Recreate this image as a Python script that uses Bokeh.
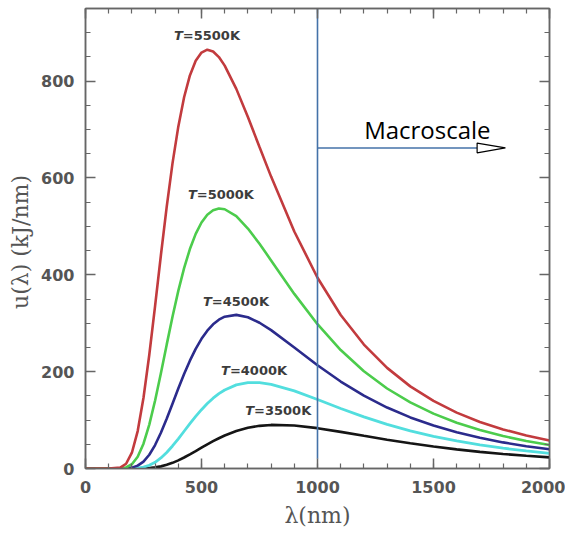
from bokeh.plotting import figure
from bokeh.models import LinearAxis, SingleIntervalTicker, ColumnDataSource
from bokeh.core.properties import value
from bokeh.embed import file_html
from bokeh.resources import INLINE

# ---- data ----
wavelength = [0, 100, 150, 175, 200, 225, 250, 275, 300, 325, 350, 375, 400, 425, 450, 475,
              500, 525, 550, 575, 600, 650, 700, 750, 800, 900, 1000, 1100, 1200, 1300,
              1400, 1500, 1600, 1700, 1800, 1900, 2000]
u_5500 = [0, 0, 1.8, 9.8, 32.6, 77.3, 146.1, 234.9, 336, 440.4, 540.4, 630.2, 706, 766.7, 811.8, 842,
          859, 865, 861.3, 849.7, 832, 784, 725.8, 664, 602.8, 489.5, 394, 317, 256, 207.8,
          169.6, 139.5, 115.4, 96.2, 80.7, 68.1, 57.9]
u_5000 = [0, 0, 0.3, 2.2, 8.8, 24.2, 51.3, 90.7, 140.4, 196.9, 255.8, 313.5, 366.8, 413.8, 453.2, 484.5,
          508, 524.1, 533.2, 537.0, 535.4, 521, 495.6, 464.1, 429.8, 360.6, 298, 244.7, 200.8, 165.2,
          136.4, 113.3, 94.6, 79.4, 67.0, 56.9, 48.6]
u_4500 = [0, 0, 0, 0.35, 1.8, 5.9, 14.3, 28.4, 48.4, 73.7, 102.7, 133.7, 165.1, 195.1, 222.7, 247.1,
          267.8, 284.7, 297.9, 307.3, 313.5, 317.3, 312.3, 301, 285.8, 249.9, 213.2, 179.6, 150.5, 125.9,
          105.5, 88.7, 74.8, 63.4, 53.9, 46.1, 39.6]
u_4000 = [0, 0, 0, 0, 0.2, 1.0, 2.9, 6.7, 12.9, 21.7, 33.1, 46.5, 61.3, 76.9, 92.5, 107.5,
          121.5, 134.1, 145.2, 154.6, 162.2, 172.7, 177.3, 177.3, 173.8, 160.2, 142.4, 123.9, 106.6, 91.2,
          77.9, 66.5, 56.9, 48.8, 41.9, 36.2, 31.3]
u_3500 = [0, 0, 0, 0, 0, 0.1, 0.4, 1.0, 2.3, 4.4, 7.6, 11.7, 16.8, 22.7, 29.2, 36.0,
          43.0, 49.8, 56.4, 62.5, 68.1, 77.3, 84.0, 88.1, 90.0, 88.8, 83.3, 75.7, 67.5, 59.5,
          52.1, 45.4, 39.5, 34.4, 30.0, 26.2, 22.9]

label_text = ["=5500K", "=5000K", "=4500K", "=4000K", "=3500K"]
label_x = [523, 583, 648, 726, 830]
label_y = [895, 566, 344, 202, 119]

x_ticks_interval = 500
y_ticks_interval = 200

divider_x = 1000
divider_y = [20, 950]
arrow_y = 662
arrow_end_x = 1688
arrow_tip_x = 1810
arrow_half_h = 10
macro_text = "Macroscale"
macro_x = 1201
macro_y = 700

# ---- figure ----
p = figure(width=565, height=530, x_range=(0, 2000), y_range=(0, 950),
           output_backend="svg", toolbar_location=None,
           min_border_left=85, min_border_right=16, min_border_top=8, min_border_bottom=5)
p.xgrid.visible = False
p.ygrid.visible = False
p.outline_line_color = "#666666"
p.outline_line_width = 1.5
p.background_fill_color = "white"
p.border_fill_color = "white"

axis_col = "#666666"
tick_col = "#555555"

def style_axis(ax, labels=True):
    ax.axis_line_color = axis_col
    ax.axis_line_width = 1.5
    ax.major_tick_line_color = axis_col
    ax.minor_tick_line_color = axis_col
    ax.major_tick_line_width = 1.5
    ax.minor_tick_line_width = 1.2
    ax.major_tick_in = 10
    ax.major_tick_out = 0
    ax.minor_tick_in = 5
    ax.minor_tick_out = 0
    if labels:
        ax.major_label_text_font = "DejaVu Sans"
        ax.major_label_text_font_style = "bold"
        ax.major_label_text_font_size = "16px"
        ax.major_label_text_color = tick_col
    else:
        ax.major_label_text_font_size = "1px"
        ax.major_label_text_alpha = 0
        ax.major_label_standoff = 0

xt = SingleIntervalTicker(interval=x_ticks_interval, num_minor_ticks=5)
yt = SingleIntervalTicker(interval=y_ticks_interval, num_minor_ticks=4)

p.xaxis.ticker = xt
p.yaxis.ticker = yt
for ax in p.xaxis:
    style_axis(ax)
    ax.major_label_standoff = 12
    ax.axis_label = "λ(nm)"
    ax.axis_label_text_font = "DejaVu Serif"
    ax.axis_label_text_font_style = "normal"
    ax.axis_label_text_font_size = "22px"
    ax.axis_label_text_color = "#555555"
    ax.axis_label_standoff = 7
for ax in p.yaxis:
    style_axis(ax)
    ax.major_label_standoff = 11
    ax.axis_label = "u(λ)  (kJ/nm)"
    ax.axis_label_text_font = "DejaVu Serif"
    ax.axis_label_text_font_style = "normal"
    ax.axis_label_text_font_size = "22px"
    ax.axis_label_text_color = "#555555"
    ax.axis_label_standoff = 5

top = LinearAxis(ticker=SingleIntervalTicker(interval=x_ticks_interval, num_minor_ticks=5))
style_axis(top, labels=False)
p.add_layout(top, "above")
right = LinearAxis(ticker=SingleIntervalTicker(interval=y_ticks_interval, num_minor_ticks=4))
style_axis(right, labels=False)
p.add_layout(right, "right")

# ---- curves ----
src = ColumnDataSource(dict(wl=wavelength, a=u_3500, b=u_4000, c=u_4500, d=u_5000, e=u_5500))
p.line("wl", "a", source=src, line_color="#151515", line_width=2.6)
p.line("wl", "b", source=src, line_color="#52dede", line_width=2.8)
p.line("wl", "c", source=src, line_color="#2b2b8c", line_width=2.6)
p.line("wl", "d", source=src, line_color="#4ccc4c", line_width=2.6)
p.line("wl", "e", source=src, line_color="#c23b3e", line_width=2.6)

# ---- curve labels ----
lsrc = ColumnDataSource(dict(x=label_x, y=label_y, t=label_text, T=["T"] * len(label_text)))
p.text("x", "y", text="T", source=lsrc, text_font=value("DejaVu Sans"), text_font_style="bold italic",
       text_font_size="13px", text_color="#3c3c3c", text_align="right", text_baseline="middle",
       x_offset=-24)
p.text("x", "y", text="t", source=lsrc, text_font=value("DejaVu Sans"), text_font_style="bold",
       text_font_size="13px", text_color="#3c3c3c", text_align="left", text_baseline="middle",
       x_offset=-24)

# ---- macroscale annotation ----
line_col = "#4472a8"
p.line([divider_x, divider_x], divider_y, line_color=line_col, line_width=1.6)
p.line([divider_x, arrow_end_x], [arrow_y, arrow_y], line_color=line_col, line_width=1.6)
p.patch([arrow_end_x, arrow_end_x, arrow_tip_x],
        [arrow_y + arrow_half_h, arrow_y - arrow_half_h, arrow_y],
        fill_color="white", line_color="black", line_width=1.2)
p.text([macro_x], [macro_y], text=[macro_text], text_font=value("Open Sans"),
       text_font_size="24px", text_color="black", text_align="left", text_baseline="alphabetic")

open("out.html", "w").write(file_html(p, INLINE))
